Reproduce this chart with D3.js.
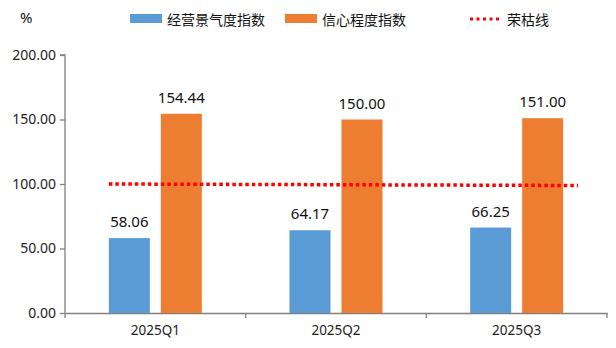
<!DOCTYPE html>
<html><head><meta charset="utf-8">
<script src="https://cdn.jsdelivr.net/npm/d3@7"></script>
<style>body{margin:0;background:#fff}svg{display:block}text{font-family:"Noto Sans","Noto Sans CJK SC",sans-serif}</style>
</head><body>
<script>
const categories = ["2025Q1","2025Q2","2025Q3"];
const seriesNames = ["经营景气度指数","信心程度指数"];
const businessIndex = [58.06,64.17,66.25];
const confidenceIndex = [154.44,150.00,151.00];
const boomLine = 100;
const yTicks = [0,50,100,150,200];
const colors = ["#5B9BD5","#ED7D31"];

const W=616,H=348;
const m={l:65,r:9,t:55,b:35};
const svg=d3.select("body").append("svg").attr("width",W).attr("height",H);
const x=d3.scaleBand().domain(categories).range([m.l,W-m.r]).padding(0);
const y=d3.scaleLinear().domain([0,200]).range([H-m.b,m.t]);
const bw=41, gap=11;
const x1=d3.scaleBand().domain(seriesNames).range([0,bw*2+gap]).paddingInner(gap/(bw+gap)).paddingOuter(0);
const groupOff=(x.bandwidth()-(bw*2+gap))/2;

// y axis
const ya=svg.append("g").attr("transform",`translate(${m.l},0)`)
 .call(d3.axisLeft(y).tickValues(yTicks).tickFormat(d3.format(".2f")).tickSize(5).tickPadding(4));
ya.select(".domain").attr("stroke","#808080").attr("stroke-width",1.3).attr("d",`M-5,${y(200)}H0V${y(0)}`);
ya.selectAll(".tick line").attr("stroke","#808080").attr("stroke-width",1.3);
ya.selectAll(".tick text").attr("font-size",14).attr("fill","#222");

// x axis
const xa=svg.append("g").attr("transform",`translate(0,${y(0)})`)
 .call(d3.axisBottom(x).tickSize(0).tickPadding(12));
xa.select(".domain").attr("stroke","#808080").attr("stroke-width",1.3);
xa.selectAll(".tick text").attr("font-size",13.5).attr("fill","#222");
const bounds=[m.l, ...categories.map(c=>x(c)+x.bandwidth())];
xa.selectAll("line.bd").data(bounds).enter().append("line").attr("class","bd")
 .attr("x1",d=>d).attr("x2",d=>d).attr("y1",0).attr("y2",5).attr("stroke","#808080").attr("stroke-width",1.3);

// bars
const data=categories.map((c,i)=>({c,vals:[businessIndex[i],confidenceIndex[i]]}));
const g=svg.append("g").selectAll("g").data(data).enter().append("g")
 .attr("transform",d=>`translate(${x(d.c)+groupOff},0)`);
g.selectAll("rect").data(d=>d.vals.map((v,j)=>({v,j}))).enter().append("rect")
 .attr("x",d=>x1(seriesNames[d.j])).attr("width",x1.bandwidth())
 .attr("y",d=>y(d.v)).attr("height",d=>y(0)-y(d.v)).attr("fill",d=>colors[d.j]);
g.selectAll("text").data(d=>d.vals.map((v,j)=>({v,j}))).enter().append("text")
 .attr("x",d=>x1(seriesNames[d.j])+x1.bandwidth()/2).attr("y",d=>y(d.v)-11)
 .attr("text-anchor","middle").attr("font-size",15).attr("fill","#111")
 .text(d=>d3.format(".2f")(d.v));

// boom line
const lx0=x(categories[0])+groupOff, lx1=x(categories[2])+x.bandwidth()-29;
svg.append("line").attr("x1",lx0).attr("x2",lx1).attr("y1",y(boomLine)).attr("y2",y(boomLine)+1.5)
 .attr("stroke","#FF0000").attr("stroke-width",3.5).attr("stroke-dasharray","3.5,3");

// unit
svg.append("text").attr("x",20).attr("y",23).attr("font-size",15).attr("fill","#111").text("%");

// legend
const leg=svg.append("g");
const items=[{n:seriesNames[0],t:"bar",c:colors[0],x:130},{n:seriesNames[1],t:"bar",c:colors[1],x:285},{n:"荣枯线",t:"line",c:"#FF0000",x:470}];
items.forEach(it=>{
  if(it.t==="bar") leg.append("rect").attr("x",it.x).attr("y",14).attr("width",32).attr("height",9).attr("fill",it.c);
  else leg.append("line").attr("x1",it.x).attr("x2",it.x+32).attr("y1",19).attr("y2",19).attr("stroke",it.c).attr("stroke-width",3).attr("stroke-dasharray","3,3.5");
  leg.append("text").attr("x",it.x+(it.t==="bar"?37:37)).attr("y",24.5).attr("font-size",14).attr("fill","#111")
   .attr("font-family","Noto Sans CJK SC").text(it.n);
});
</script>
</body></html>
